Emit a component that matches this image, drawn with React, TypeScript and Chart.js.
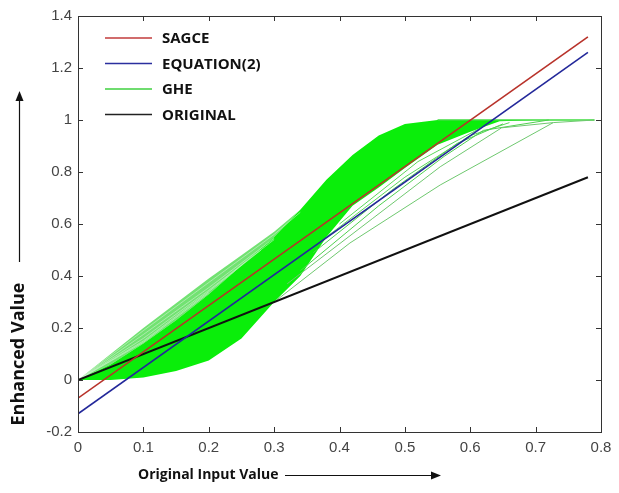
import React, { useEffect, useRef } from "react";
import { Chart, registerables } from "chart.js";

Chart.register(...registerables);

// ---- axis ticks ----
const X_TICKS = [0, 0.1, 0.2, 0.3, 0.4, 0.5, 0.6, 0.7, 0.8];
const Y_TICKS = [-0.2, 0, 0.2, 0.4, 0.6, 0.8, 1, 1.2, 1.4];

// ---- straight curves ----
const LINE_X = [0, 0.78];
const SAGCE_Y = [-0.07, 1.32];
const EQ2_Y = [-0.13, 1.26];
const ORIGINAL_Y = [0, 0.78];

// ---- GHE bundle envelopes ----
const GHE_X = [0, 0.05, 0.1, 0.15, 0.2, 0.25, 0.3, 0.34, 0.38, 0.42, 0.46, 0.5, 0.55, 0.6, 0.645, 0.7, 0.79];
const GHE_LOWER = [0, 0, 0.01, 0.035, 0.075, 0.16, 0.3, 0.4, 0.55, 0.67, 0.74, 0.815, 0.905, 0.955, 0.995, 1, 1];
const GHE_DENSE_TOP = [0, 0.06, 0.14, 0.23, 0.33, 0.44, 0.55, 0.655, 0.77, 0.865, 0.94, 0.985, 1, 1, 1, 1, 1];
const GHE_UPPER = [0, 0.1, 0.2, 0.295, 0.39, 0.48, 0.57, 0.655, 0.77, 0.865, 0.94, 0.985, 1, 1, 1, 1, 1];

// ---- individual GHE curves (lower right) ----
const GHE_T1_X = [0.3, 0.416, 0.554, 0.727, 0.79];
const GHE_T1_Y = [0.3, 0.527, 0.75, 0.99, 1.0];
const GHE_T2_X = [0.32, 0.45, 0.554, 0.648, 0.727];
const GHE_T2_Y = [0.37, 0.62, 0.82, 0.97, 0.99];
const GHE_T3_X = [0.34, 0.46, 0.56, 0.62, 0.72];
const GHE_T3_Y = [0.42, 0.67, 0.86, 0.96, 1.0];
const GHE_T4_X = [0.36, 0.48, 0.58, 0.65];
const GHE_T4_Y = [0.49, 0.73, 0.91, 0.985];
const GHE_T5_X = [0.38, 0.5, 0.6, 0.66];
const GHE_T5_Y = [0.55, 0.78, 0.94, 0.99];
const GHE_T6_X = [0.4, 0.52, 0.62];
const GHE_T6_Y = [0.6, 0.84, 0.975];
const GHE_FLAT_X = [0.55, 0.79];
const GHE_FLAT_Y = [1, 1];

// ---- individual GHE curves (upper left) ----
const GHE_U1_X = [0, 0.1, 0.2, 0.3, 0.34];
const GHE_U1_Y = [0, 0.19, 0.375, 0.56, 0.645];
const GHE_U2_X = [0, 0.1, 0.2, 0.3];
const GHE_U2_Y = [0, 0.175, 0.355, 0.545];
const GHE_U3_X = [0, 0.1, 0.2, 0.3];
const GHE_U3_Y = [0, 0.16, 0.345, 0.54];
const GHE_U4_X = [0, 0.1, 0.2, 0.28];
const GHE_U4_Y = [0, 0.15, 0.34, 0.5];
const GHE_U5_X = [0, 0.1, 0.2];
const GHE_U5_Y = [0, 0.145, 0.335];

// ---- legend ----
const LEGEND_LABELS = ["SAGCE", "EQUATION(2)", "GHE", "ORIGINAL"];
const LEGEND_COLORS = ["#c23b3b", "#2b2f9e", "#3fd13f", "#222222"];

const X_TITLE = "Original Input Value";
const Y_TITLE = "Enhanced Value";

const pts = (xs: number[], ys: number[]) => xs.map((x, i) => ({ x, y: ys[i] }));

const thin = (xs: number[], ys: number[], color: string, w: number) => ({
  data: pts(xs, ys),
  borderColor: color,
  borderWidth: w,
  pointRadius: 0,
  fill: false,
  order: 5,
});

export default function App() {
  const ref = useRef<HTMLCanvasElement | null>(null);

  useEffect(() => {
    if (!ref.current) return;

    const framePlugin = {
      id: "frameAndDecor",
      afterDraw(chart: any) {
        const { ctx, chartArea: a, scales } = chart;
        const xs = scales.x;
        const ys = scales.y;
        ctx.save();
        // frame
        ctx.strokeStyle = "#333";
        ctx.lineWidth = 1;
        ctx.strokeRect(a.left + 0.5, a.top + 0.5, a.right - a.left, a.bottom - a.top);
        // inward ticks
        ctx.beginPath();
        X_TICKS.forEach((v) => {
          const px = Math.round(xs.getPixelForValue(v)) + 0.5;
          ctx.moveTo(px, a.bottom);
          ctx.lineTo(px, a.bottom - 5);
          ctx.moveTo(px, a.top);
          ctx.lineTo(px, a.top + 5);
        });
        Y_TICKS.forEach((v) => {
          const py = Math.round(ys.getPixelForValue(v)) + 0.5;
          ctx.moveTo(a.left, py);
          ctx.lineTo(a.left + 5, py);
          ctx.moveTo(a.right, py);
          ctx.lineTo(a.right - 5, py);
        });
        ctx.stroke();

        // legend
        ctx.font = "bold 15px 'Open Sans', sans-serif";
        ctx.textBaseline = "middle";
        ctx.textAlign = "left";
        LEGEND_LABELS.forEach((lab, i) => {
          const y = a.top + 22 + i * 25.5;
          ctx.strokeStyle = LEGEND_COLORS[i];
          ctx.lineWidth = 1.5;
          ctx.beginPath();
          ctx.moveTo(a.left + 27, y);
          ctx.lineTo(a.left + 74, y);
          ctx.stroke();
          ctx.fillStyle = "#111";
          ctx.fillText(lab, a.left + 84, y + 1);
        });

        // axis titles
        ctx.fillStyle = "#111";
        ctx.font = "bold 14px 'Open Sans', sans-serif";
        ctx.textAlign = "left";
        ctx.textBaseline = "middle";
        ctx.fillText(X_TITLE, 138, 475);
        ctx.strokeStyle = "#111";
        ctx.lineWidth = 1.2;
        ctx.beginPath();
        ctx.moveTo(285, 475.5);
        ctx.lineTo(434, 475.5);
        ctx.stroke();
        ctx.beginPath();
        ctx.moveTo(441, 475.5);
        ctx.lineTo(431, 471.5);
        ctx.lineTo(431, 479.5);
        ctx.closePath();
        ctx.fill();

        ctx.save();
        ctx.translate(19, 354);
        ctx.rotate(-Math.PI / 2);
        ctx.font = "bold 18px 'Open Sans', sans-serif";
        ctx.textAlign = "center";
        ctx.fillText(Y_TITLE, 0, 0);
        ctx.restore();
        ctx.beginPath();
        ctx.moveTo(19.5, 262);
        ctx.lineTo(19.5, 99);
        ctx.stroke();
        ctx.beginPath();
        ctx.moveTo(19.5, 91);
        ctx.lineTo(15.5, 101);
        ctx.lineTo(23.5, 101);
        ctx.closePath();
        ctx.fill();
        ctx.restore();
      },
    };

    const datasets: any[] = [
      {
        data: pts(GHE_X, GHE_LOWER),
        borderColor: "transparent",
        borderWidth: 0,
        pointRadius: 0,
        fill: false,
        order: 10,
      },
      {
        data: pts(GHE_X, GHE_DENSE_TOP),
        borderColor: "transparent",
        borderWidth: 0,
        pointRadius: 0,
        fill: 0,
        backgroundColor: "#0aee0a",
        order: 10,
      },
      {
        data: pts(GHE_X, GHE_UPPER),
        borderColor: "transparent",
        borderWidth: 0,
        pointRadius: 0,
        fill: 1,
        backgroundColor: "rgba(60,215,60,0.72)",
        order: 10,
      },
      thin(GHE_U1_X, GHE_U1_Y, "rgba(215,245,215,0.8)", 0.7),
      thin(GHE_U2_X, GHE_U2_Y, "rgba(215,245,215,0.8)", 0.7),
      thin(GHE_U3_X, GHE_U3_Y, "rgba(215,245,215,0.8)", 0.7),
      thin(GHE_U4_X, GHE_U4_Y, "rgba(215,245,215,0.8)", 0.7),
      thin(GHE_U5_X, GHE_U5_Y, "rgba(215,245,215,0.8)", 0.7),
      thin(GHE_T1_X, GHE_T1_Y, "#6fc86f", 1),
      thin(GHE_T2_X, GHE_T2_Y, "#6fc86f", 1),
      thin(GHE_T3_X, GHE_T3_Y, "#4fd04f", 1),
      thin(GHE_T4_X, GHE_T4_Y, "#4fd04f", 1),
      thin(GHE_T5_X, GHE_T5_Y, "#5ad85a", 1),
      thin(GHE_T6_X, GHE_T6_Y, "#5ad85a", 1),
      thin(GHE_FLAT_X, GHE_FLAT_Y, "#3fdc3f", 1.5),
      {
        data: pts(LINE_X, ORIGINAL_Y),
        borderColor: "#111111",
        borderWidth: 2,
        pointRadius: 0,
        fill: false,
        order: 2,
      },
      {
        data: pts(LINE_X, SAGCE_Y),
        borderColor: "#b8322a",
        borderWidth: 1.6,
        pointRadius: 0,
        fill: false,
        order: 1,
      },
      {
        data: pts(LINE_X, EQ2_Y),
        borderColor: "#23289a",
        borderWidth: 1.6,
        pointRadius: 0,
        fill: false,
        order: 1,
      },
    ];

    const tickFont = { family: "'Liberation Sans', Arial, sans-serif", size: 15 };

    const chart = new Chart(ref.current, {
      type: "line",
      data: { datasets },
      options: {
        animation: false,
        responsive: false,
        parsing: false as any,
        layout: { padding: { left: 0, top: 16, right: 18, bottom: 0 } },
        plugins: {
          legend: { display: false },
          tooltip: { enabled: false },
        },
        elements: { line: { tension: 0 } },
        scales: {
          x: {
            type: "linear",
            min: 0,
            max: 0.8,
            grid: { display: false, drawTicks: false },
            border: { display: false },
            afterBuildTicks: (s: any) => {
              s.ticks = X_TICKS.map((v) => ({ value: v }));
            },
            afterFit: (s: any) => {
              s.height = 61;
            },
            ticks: {
              padding: 7,
              color: "#444",
              font: tickFont,
              maxRotation: 0,
              autoSkip: false,
              callback: (v: any) => String(v),
            },
          },
          y: {
            type: "linear",
            min: -0.2,
            max: 1.4,
            grid: { display: false, drawTicks: false },
            border: { display: false },
            afterBuildTicks: (s: any) => {
              s.ticks = Y_TICKS.map((v) => ({ value: v }));
            },
            afterFit: (s: any) => {
              s.width = 78;
            },
            ticks: {
              padding: 6,
              color: "#444",
              font: tickFont,
              autoSkip: false,
              callback: (v: any) => String(v),
            },
          },
        },
      },
      plugins: [framePlugin],
    });

    return () => chart.destroy();
  }, []);

  return (
    <div style={{ position: "fixed", left: 0, top: 0, width: 619, height: 493, background: "#fff" }}>
      <canvas ref={ref} width={619} height={493} style={{ display: "block" }} />
    </div>
  );
}
